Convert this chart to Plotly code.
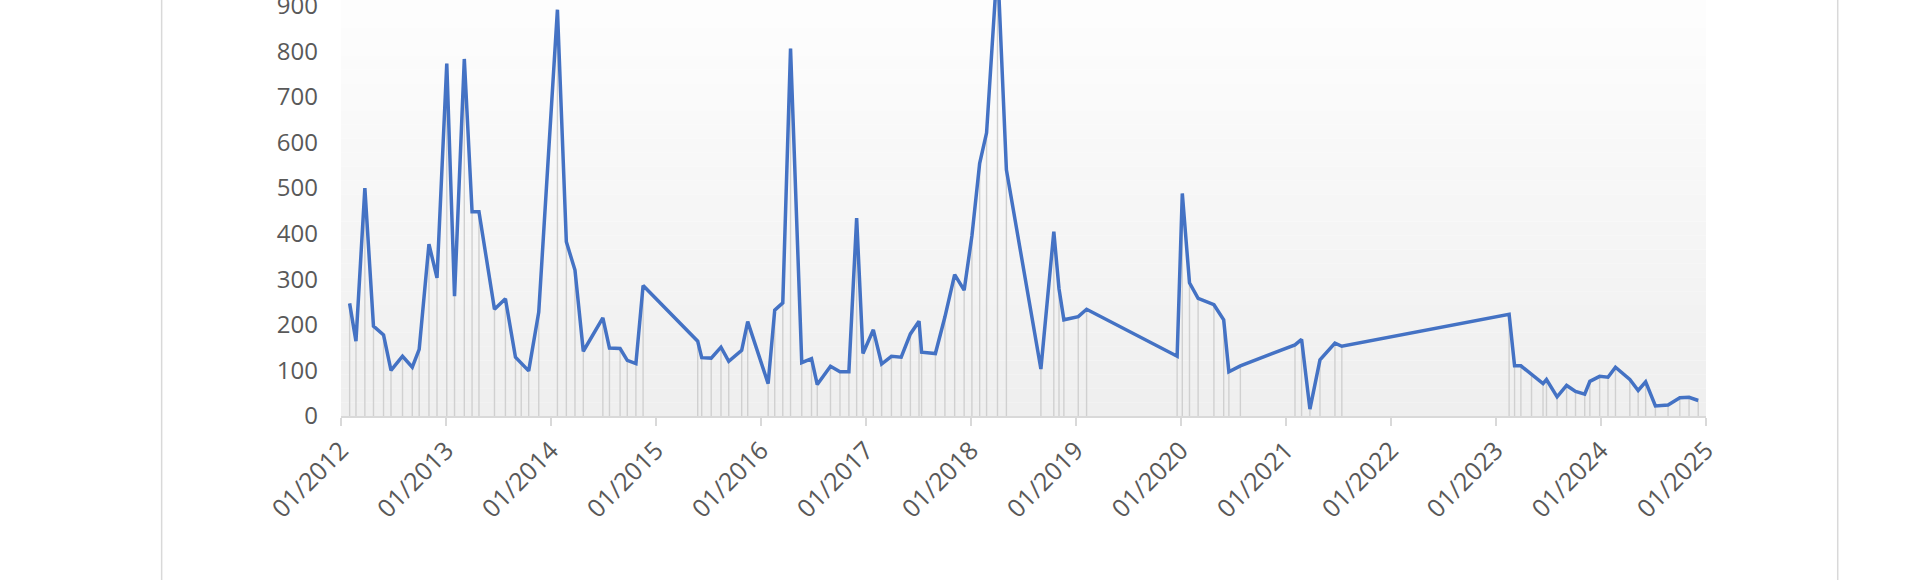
import plotly.graph_objects as go

dates = [
    "2012-01-31", "2012-02-22", "2012-03-24", "2012-04-23", "2012-05-28", "2012-06-23",
    "2012-08-02", "2012-09-05", "2012-09-29", "2012-11-02", "2012-11-30", "2013-01-03",
    "2013-01-30", "2013-03-05", "2013-04-01", "2013-04-25", "2013-06-18", "2013-07-26",
    "2013-08-30", "2013-09-19", "2013-10-15", "2013-11-19", "2014-01-23", "2014-02-23",
    "2014-03-25", "2014-04-23", "2014-06-30", "2014-07-23", "2014-08-29", "2014-09-23",
    "2014-10-23", "2014-11-17", "2015-05-26", "2015-06-09", "2015-07-12", "2015-08-15",
    "2015-09-11", "2015-10-26", "2015-11-16", "2016-01-26", "2016-02-18", "2016-03-17",
    "2016-04-13", "2016-05-22", "2016-06-25", "2016-07-15", "2016-08-30", "2016-10-02",
    "2016-11-02", "2016-11-29", "2016-12-21", "2017-01-26", "2017-02-24", "2017-03-30",
    "2017-05-03", "2017-06-04", "2017-07-04", "2017-07-13", "2017-08-30", "2017-10-02",
    "2017-11-05", "2017-12-08", "2018-01-04", "2018-01-31", "2018-02-24", "2018-04-03",
    "2018-05-04", "2018-09-01", "2018-10-16", "2018-11-03", "2018-11-20", "2019-01-09",
    "2019-02-07", "2019-12-19", "2020-01-06", "2020-01-31", "2020-03-01", "2020-04-25",
    "2020-05-29", "2020-06-16", "2020-07-26", "2021-02-01", "2021-02-24", "2021-03-25",
    "2021-04-29", "2021-06-20", "2021-07-14", "2023-02-16", "2023-03-07", "2023-03-29",
    "2023-05-05", "2023-06-14", "2023-06-26", "2023-08-02", "2023-09-04", "2023-10-05",
    "2023-11-06", "2023-11-24", "2023-12-28", "2024-01-26", "2024-02-21", "2024-04-11",
    "2024-05-10", "2024-06-05", "2024-07-09", "2024-08-22", "2024-10-02", "2024-11-03",
    "2024-12-05",
]

values = [
    247, 164, 500, 197, 178, 100,
    131, 107, 146, 377, 303, 773,
    263, 783, 448, 448, 234, 257,
    129, 117, 99, 228, 891, 382,
    320, 142, 215, 149, 148, 122,
    115, 286, 164, 128, 127, 151,
    120, 144, 207, 71, 232, 248,
    806, 117, 126, 69, 109, 97,
    97, 434, 137, 189, 114, 131,
    129, 180, 208, 140, 137, 217,
    310, 276, 395, 554, 621, 995,
    540, 103, 404, 279, 211, 218,
    234, 131, 488, 292, 258, 244,
    211, 97, 110, 156, 168, 15,
    123, 160, 153, 223, 110, 110,
    91, 71, 80, 42, 67, 54,
    48, 76, 87, 85, 107, 80,
    56, 75, 22, 24, 40, 41,
    34,
]

x_tick_vals = [f"{y}-01-01" for y in range(2012, 2026)]
x_tick_text = [f"01/{y}" for y in range(2012, 2026)]
y_tick_vals = [0, 100, 200, 300, 400, 500, 600, 700, 800, 900]

FONT = dict(family="Open Sans, Arial, sans-serif", size=24, color="#595959")
XFONT = dict(family="Open Sans, Arial, sans-serif", size=25, color="#595959")
GRID = "#d9d9d9"

fig = go.Figure()

# drop lines from each point to zero
fig.add_trace(go.Scatter(
    x=dates, y=values, mode="markers",
    marker=dict(size=1, opacity=0),
    error_y=dict(type="data", symmetric=False, array=[0] * len(values),
                 arrayminus=values, width=0, color="#d0d0d0", thickness=1.4),
    hoverinfo="skip", showlegend=False,
))

fig.add_trace(go.Scatter(
    x=dates, y=values, mode="lines",
    line=dict(color="#4472c4", width=3.5),
    showlegend=False,
))

# background gradient (light grey at bottom to near-white at top)
shapes = []
N = 30
c_bot, c_top = 239, 253
for i in range(N):
    t = i / (N - 1)
    c = round(c_bot + (c_top - c_bot) * t)
    shapes.append(dict(type="rect", xref="paper", yref="paper",
                       x0=0, x1=1, y0=i / N, y1=(i + 1) / N,
                       fillcolor=f"rgb({c},{c},{c})", line=dict(width=0),
                       layer="below"))

# outer panel borders
for xp in (-0.1314, 1.0965):
    shapes.append(dict(type="line", xref="paper", yref="paper",
                       x0=xp, x1=xp, y0=-0.40, y1=1.0,
                       line=dict(color=GRID, width=1.5)))

fig.update_layout(
    width=1920, height=580,
    margin=dict(l=341, r=214, t=0, b=164),
    paper_bgcolor="white", plot_bgcolor="white",
    shapes=shapes,
    showlegend=False,
    xaxis=dict(
        type="date", range=["2012-01-01", "2025-01-01"],
        tickmode="array", tickvals=x_tick_vals, ticktext=x_tick_text,
        tickangle=-45, ticks="outside", ticklen=8, tickwidth=1.5, tickcolor=GRID,
        showline=True, linecolor=GRID, linewidth=1.5,
        showgrid=False, zeroline=False, tickfont=XFONT, automargin=False,
    ),
    yaxis=dict(
        range=[0, 912.3], tickmode="array", tickvals=y_tick_vals,
        showgrid=False, zeroline=False, showline=False, ticks="",
        ticklabelstandoff=22, tickfont=FONT, automargin=False,
        ticklabeloverflow="allow",
    ),
)

fig.write_html("out.html", config={"displayModeBar": False},
               post_script="document.body.style.margin='0';")
